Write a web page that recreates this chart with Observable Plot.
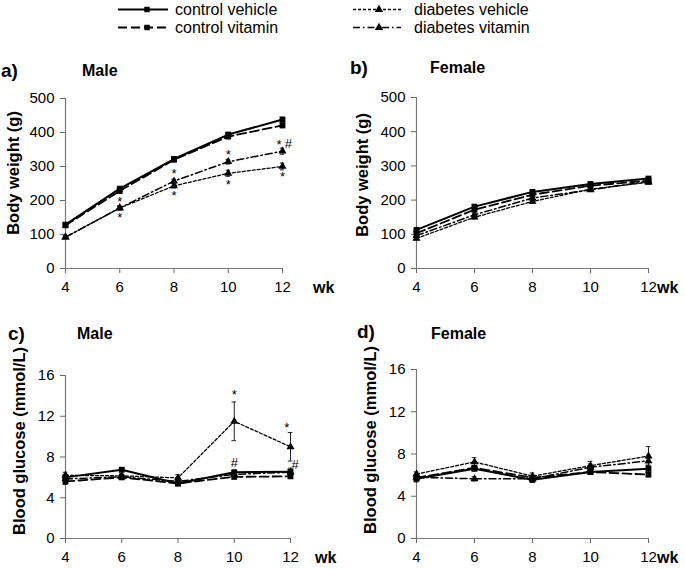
<!DOCTYPE html>
<html><head><meta charset="utf-8">
<script src="https://cdn.jsdelivr.net/npm/d3@7"></script>
<script src="https://cdn.jsdelivr.net/npm/@observablehq/plot@0.6"></script>
<style>
body{margin:0;background:#fff;}
#chart{position:relative;width:685px;height:569px;overflow:hidden;font-family:"Liberation Sans",Arial,Helvetica,sans-serif;}
#chart svg{position:absolute;overflow:visible;}
</style></head><body><div id="chart"></div>
<script>
// ---- data ----
const weeks = [4, 6, 8, 10, 12];
const groups = ["control vehicle", "control vitamin", "diabetes vehicle", "diabetes vitamin"];
const weightTicks = [0, 100, 200, 300, 400, 500];
const glucoseTicks = [0, 4, 8, 12, 16];
// rows follow the order of `groups`
const maleWeight = [[129, 235, 322, 394, 438], [127, 228, 320, 388, 421], [92, 178, 243, 280, 300], [92, 178, 257, 314, 345]];
const maleWeightErr = [[5, 6, 6, 6, 7], [5, 6, 6, 6, 7], [4, 6, 6, 9, 10], [4, 6, 6, 7, 9]];
const femaleWeight = [[113, 181, 224, 247, 263], [103, 172, 216, 242, 257], [88, 150, 196, 232, 252], [96, 157, 206, 230, 255]];
const femaleWeightErr = [[4, 5, 5, 5, 5], [4, 5, 5, 5, 5], [4, 5, 5, 5, 5], [4, 5, 5, 5, 5]];
const maleGlucose = [[6.0, 6.75, 5.4, 6.5, 6.55], [5.6, 6.0, 5.4, 6.05, 6.1], [6.2, 6.15, 5.95, 11.5, 9.0], [5.85, 6.05, 5.6, 6.3, 6.5]];
const maleGlucoseErr = [[0.3, 0.2, 0.2, 0.2, 0.2], [0.3, 0.2, 0.2, 0.2, 0.2], [0.3, 0.2, 0.3, 1.9, 1.4], [0.3, 0.2, 0.2, 0.2, 0.4]];
const femaleGlucose = [[5.65, 6.6, 5.55, 6.3, 6.6], [5.75, 6.7, 5.75, 6.3, 6.05], [6.1, 7.25, 5.9, 6.9, 7.8], [5.8, 5.65, 5.65, 6.75, 7.35]];
const femaleGlucoseErr = [[0.3, 0.2, 0.2, 0.2, 0.3], [0.2, 0.2, 0.2, 0.2, 0.2], [0.2, 0.4, 0.3, 0.4, 0.9], [0.2, 0.2, 0.2, 0.3, 0.3]];
const maleWeightNotes = [
  {x: 6, y: 204, t: "*"}, {x: 6, y: 157, t: "*"},
  {x: 8, y: 287, t: "*"}, {x: 8, y: 223, t: "*"},
  {x: 10, y: 343, t: "*"}, {x: 10, y: 255, t: "*"},
  {x: 11.87, y: 373, t: "*"}, {x: 12.22, y: 376, t: "#"}, {x: 12, y: 277, t: "*"}
];
const maleGlucoseNotes = [
  {x: 10, y: 14.4, t: "*"}, {x: 10, y: 7.7, t: "#"},
  {x: 11.87, y: 11.2, t: "*"}, {x: 12.16, y: 7.5, t: "#"}
];

// ---- styles ----
const FONT = '"Liberation Sans", Arial, Helvetica, sans-serif';
const dashes = [null, "9,4", "3,2", "7,3,1.5,3"];
const widths = [2, 1.8, 1.3, 1.5];
const symbols = ["square", "square", "triangle", "triangle"];
const symbolR = [3, 3, 2.5, 2.5];
const chart = document.getElementById("chart");

function panel({x0, x1, yTop, yBot, yTicks, series, errs, notes}) {
  const mL = 50, mR = 12, mT = 10, mB = 30;
  const rows = [];
  groups.forEach((g, gi) => weeks.forEach((w, i) => rows.push({group: g, gi, week: w, value: series[gi][i], err: errs[gi][i]})));
  const yMax = yTicks[yTicks.length - 1];
  const svg = Plot.plot({
    width: x1 - x0 + mL + mR,
    height: yBot - yTop + mT + mB,
    marginLeft: mL, marginRight: mR, marginTop: mT, marginBottom: mB,
    x: {type: "linear", domain: [weeks[0], weeks[weeks.length - 1]], ticks: weeks, tickSize: 5, tickPadding: 8, label: null, tickFormat: d => String(d)},
    y: {domain: [yTicks[0], yMax], ticks: yTicks, tickSize: 5, tickPadding: 6, label: null, tickFormat: d => String(d)},
    symbol: {domain: groups, range: symbols},
    style: {fontFamily: FONT, fontSize: "15px", color: "#000", background: "transparent", overflow: "visible"},
    marks: [
      Plot.ruleX([weeks[0]], {stroke: "#777", strokeWidth: 1.2}),
      Plot.ruleY([yTicks[0]], {stroke: "#777", strokeWidth: 1.2}),
      ...groups.map((g, gi) => Plot.line(rows.filter(r => r.gi === gi), {
        x: "week", y: "value", stroke: "#000", strokeWidth: widths[gi], strokeDasharray: dashes[gi]
      })),
      Plot.ruleX(rows, {x: "week", y1: d => d.value - d.err, y2: d => d.value + d.err, stroke: "#222", strokeWidth: 1}),
      Plot.ruleY(rows, {y: d => d.value + d.err, x1: d => d.week - 0.08, x2: d => d.week + 0.08, stroke: "#222", strokeWidth: 1}),
      Plot.ruleY(rows, {y: d => d.value - d.err, x1: d => d.week - 0.08, x2: d => d.week + 0.08, stroke: "#222", strokeWidth: 1}),
      Plot.dot(rows, {x: "week", y: "value", symbol: "group", fill: "#000", stroke: "none", r: d => symbolR[d.gi]}),
      Plot.text(notes, {x: "x", y: "y", text: "t", fontSize: 13, dy: 3, fill: "#000"})
    ]
  });
  svg.querySelectorAll('[aria-label$="axis tick"]').forEach(g => g.setAttribute("stroke", "#666"));
  svg.style.left = (x0 - mL) + "px";
  svg.style.top = (yTop - mT) + "px";
  chart.appendChild(svg);
}

panel({x0: 65, x1: 282, yTop: 98, yBot: 268, yTicks: weightTicks, series: maleWeight, errs: maleWeightErr, notes: maleWeightNotes});
panel({x0: 416, x1: 648, yTop: 97, yBot: 268, yTicks: weightTicks, series: femaleWeight, errs: femaleWeightErr, notes: []});
panel({x0: 65, x1: 290, yTop: 375, yBot: 538, yTicks: glucoseTicks, series: maleGlucose, errs: maleGlucoseErr, notes: maleGlucoseNotes});
panel({x0: 416, x1: 648, yTop: 369, yBot: 538, yTicks: glucoseTicks, series: femaleGlucose, errs: femaleGlucoseErr, notes: []});

// ---- overlay texts & legend ----
const ov = d3.select(chart).append("svg")
  .attr("width", 685).attr("height", 569)
  .style("left", "0px").style("top", "0px")
  .style("font-family", FONT);

function txt(s, x, y, size, weight, anchor = "start", rotate = 0) {
  ov.append("text").text(s)
    .attr("transform", `translate(${x},${y}) rotate(${rotate})`)
    .attr("text-anchor", anchor).attr("dominant-baseline", "central")
    .attr("font-size", size).attr("font-weight", weight).attr("fill", "#000");
}
txt("a)", 1, 70, 19, "bold");
txt("Male", 82, 70, 16, "bold");
txt("b)", 350, 67, 19, "bold");
txt("Female", 430, 67, 16, "bold");
txt("c)", 8, 333, 19, "bold");
txt("Male", 77, 333, 16, "bold");
txt("d)", 357, 331, 19, "bold");
txt("Female", 431, 333, 16, "bold");
txt("Body weight (g)", 13, 173, 16.5, "bold", "middle", -90);
txt("Body weight (g)", 362, 175, 16.5, "bold", "middle", -90);
txt("Blood glucose (mmol/L)", 19, 441, 16.5, "bold", "middle", -90);
txt("Blood glucose (mmol/L)", 370, 440, 16.5, "bold", "middle", -90);
txt("wk", 313, 287, 16, "bold");
txt("wk", 657, 287, 16, "bold");
txt("wk", 315, 557, 16, "bold");
txt("wk", 657, 557, 16, "bold");

const legendPos = [
  {x1: 118, x2: 168, m: 147, tx: 175, y: 9.5},
  {x1: 118, x2: 168, m: 147, tx: 175, y: 27.5},
  {x1: 353, x2: 401, m: 379, tx: 414, y: 9.5},
  {x1: 353, x2: 401, m: 379, tx: 414, y: 27.5}
];
groups.forEach((g, gi) => {
  const p = legendPos[gi];
  ov.append("line").attr("x1", p.x1).attr("x2", p.x2).attr("y1", p.y).attr("y2", p.y)
    .attr("stroke", "#000").attr("stroke-width", widths[gi]).attr("stroke-dasharray", dashes[gi]);
  const sym = symbols[gi] === "square" ? d3.symbolSquare : d3.symbolTriangle;
  ov.append("path").attr("d", d3.symbol(sym, 30)()).attr("transform", `translate(${p.m},${p.y})`).attr("fill", "#000");
  txt(g, p.tx, p.y, 16, "normal");
});
</script></body></html>
